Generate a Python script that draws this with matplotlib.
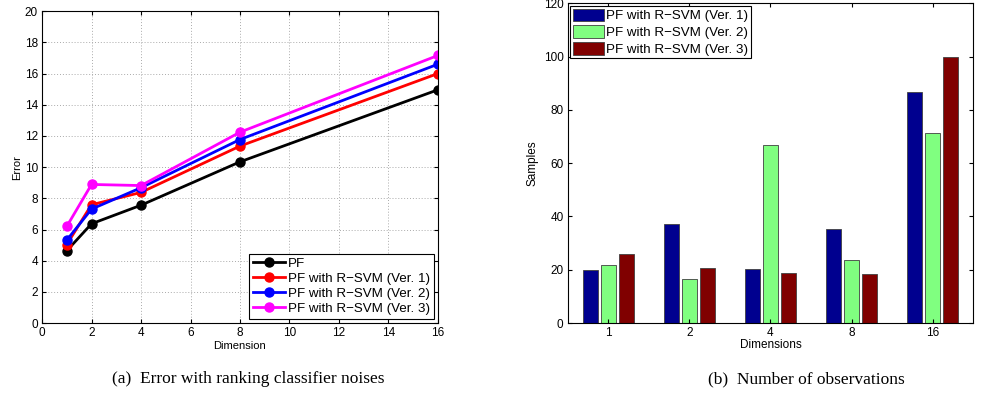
import numpy as np
import matplotlib.pyplot as plt

plt.rcParams['font.family'] = ['Liberation Sans', 'DejaVu Sans']

# left panel: error vs dimension
dims = [1, 2, 4, 8, 16]
err_pf = [4.64, 6.37, 7.56, 10.34, 14.96]
err_v1 = [5.04, 7.59, 8.38, 11.35, 16.0]
err_v2 = [5.32, 7.31, 8.68, 11.77, 16.6]
err_v3 = [6.2, 8.89, 8.82, 12.24, 17.16]
line_labels = ['PF', 'PF with R\u2212SVM (Ver. 1)', 'PF with R\u2212SVM (Ver. 2)',
               'PF with R\u2212SVM (Ver. 3)']

# right panel: samples per dimension
dim_labels = ['1', '2', '4', '8', '16']
samp_v1 = [20.0, 37.3, 20.3, 35.3, 86.6]
samp_v2 = [21.7, 16.7, 66.8, 23.8, 71.2]
samp_v3 = [26.1, 20.7, 18.7, 18.5, 100.0]
bar_labels = line_labels[1:]

fig = plt.figure(figsize=(9.84, 3.97), dpi=100)

ax1 = fig.add_axes([0.0427, 0.186, 0.4024, 0.786])
colors = ['k', '#ff0000', '#0000ff', '#ff00ff']
for ys, c, lab in zip([err_pf, err_v1, err_v2, err_v3], colors, line_labels):
    ax1.plot(dims, ys, '-o', color=c, lw=2, ms=6.5, label=lab)
ax1.set_xlim(0, 16)
ax1.set_ylim(0, 20)
ax1.set_xticks(range(0, 17, 2))
ax1.set_yticks(range(0, 21, 2))
ax1.grid(True, linestyle=(0, (1, 2)), color='#aaaaaa', lw=0.7)
ax1.set_xlabel('Dimension', fontsize=8, labelpad=1)
ax1.set_ylabel('Error', fontsize=8, labelpad=2)
ax1.tick_params(direction='in', top=True, right=True, labelsize=8.5, length=3, pad=3)
leg1 = ax1.legend(loc='lower right', fontsize=9.6, frameon=True, fancybox=False,
                  edgecolor='k', framealpha=1, borderpad=0.3, labelspacing=0.2,
                  handlelength=2.4, handletextpad=0.2, borderaxespad=0.3)
leg1.get_frame().set_linewidth(0.8)

ax2 = fig.add_axes([0.577, 0.186, 0.412, 0.806])
x = np.arange(1, len(dim_labels) + 1)
w = 0.185
off = 0.222
bar_colors = ['#00008f', '#80ff80', '#800000']
for i, (vals, c, lab) in enumerate(zip([samp_v1, samp_v2, samp_v3], bar_colors, bar_labels)):
    ax2.bar(x + (i - 1) * off, vals, width=w, color=c, edgecolor='#404040',
            linewidth=0.6, label=lab)
ax2.set_xlim(0.5, 5.5)
ax2.set_ylim(0, 120)
ax2.set_xticks(x)
ax2.set_xticklabels(dim_labels)
ax2.set_yticks(range(0, 121, 20))
ax2.set_xlabel('Dimensions', fontsize=8.5, labelpad=0)
ax2.set_ylabel('Samples', fontsize=8.5, labelpad=4)
ax2.tick_params(direction='in', top=True, right=True, labelsize=8.5, length=3, pad=3)
leg2 = ax2.legend(loc='upper left', fontsize=9.6, frameon=True, fancybox=False,
                  edgecolor='k', framealpha=1, borderpad=0.2, labelspacing=0.2,
                  handlelength=2.3, handleheight=1.1, handletextpad=0.15,
                  borderaxespad=0.2)
leg2.get_frame().set_linewidth(0.8)

fig.text(0.252, 0.045, '(a)  Error with ranking classifier noises', ha='center',
         va='center', fontsize=12.5, family=['Liberation Serif', 'DejaVu Serif'])
fig.text(0.819, 0.045, '(b)  Number of observations', ha='center',
         va='center', fontsize=12.5, family=['Liberation Serif', 'DejaVu Serif'])

fig.savefig('out.png', dpi=100)
